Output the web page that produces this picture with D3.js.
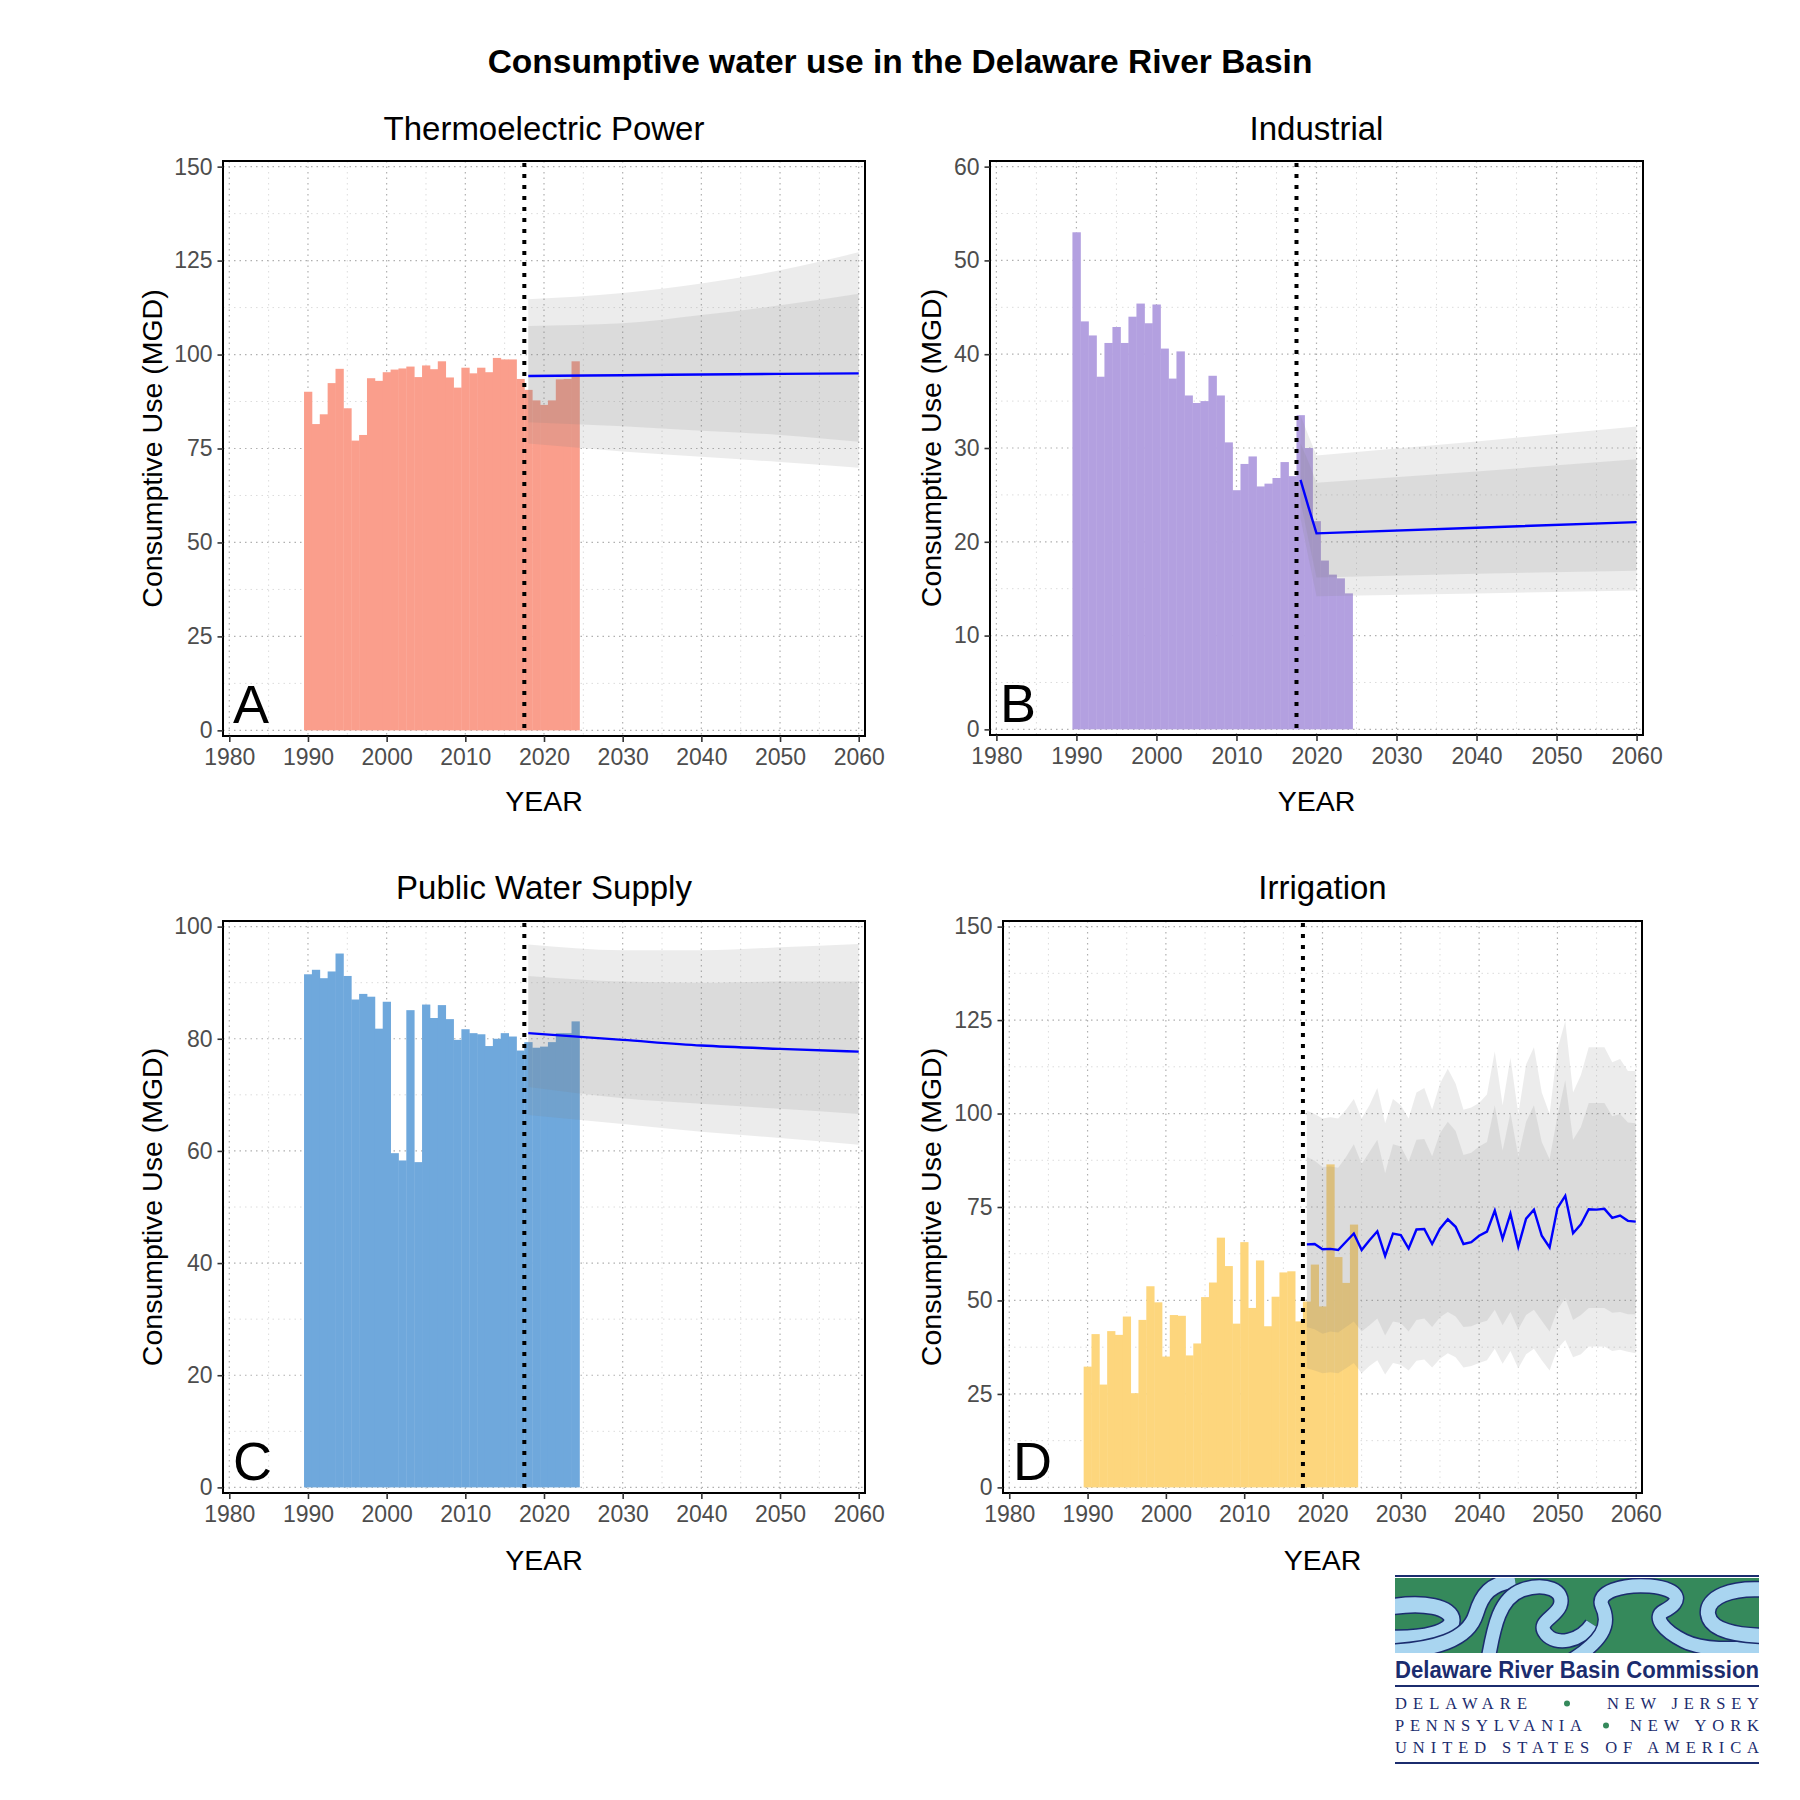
<!DOCTYPE html>
<html><head><meta charset="utf-8">
<script src="https://cdn.jsdelivr.net/npm/d3@7"></script>
<style>body{margin:0;background:#fff} svg{display:block}</style>
</head><body>
<svg id="c" width="1800" height="1800"></svg>
<script>
// ---------------- DATA ----------------
const chartTitle = "Consumptive water use in the Delaware River Basin";
const panelTitles = ["Thermoelectric Power", "Industrial", "Public Water Supply", "Irrigation"];
const panelLetters = ["A", "B", "C", "D"];
const xAxisTitle = "YEAR";
const yAxisTitle = "Consumptive Use (MGD)";

const histYears = [1990,1991,1992,1993,1994,1995,1996,1997,1998,1999,2000,2001,2002,2003,2004,2005,2006,2007,2008,2009,2010,2011,2012,2013,2014,2015,2016,2017,2018,2019,2020,2021,2022,2023,2024];
const thermoUse     = [90.1,81.5,84.1,92.4,96.2,85.7,77.1,78.6,93.7,93.0,95.3,96.0,96.3,96.8,94.0,97.1,96.1,98.2,93.9,91.2,96.5,95.0,96.5,95.3,99.1,98.7,98.7,93.5,90.6,87.8,86.6,87.8,93.4,93.5,98.2];
const industrialUse = [53.0,43.5,42.0,37.6,41.2,42.9,41.2,44.0,45.4,43.3,45.3,40.6,37.4,40.3,35.6,34.8,35.0,37.7,35.6,30.6,25.5,28.3,29.1,25.9,26.2,26.8,28.5,27.0,33.5,30.0,22.2,18.0,16.5,16.1,14.5];
const publicUse     = [91.5,92.3,90.8,92.0,95.2,91.2,87.0,88.0,87.5,81.8,86.6,59.6,58.3,85.1,58.0,86.1,83.7,86.0,83.5,79.8,81.7,81.0,80.8,78.7,80.0,81.0,80.4,77.9,79.4,78.4,78.6,79.4,81.0,81.0,83.1];
const irrigationUse = [32.3,41.0,27.5,41.8,40.8,45.7,25.2,44.8,53.8,49.5,35.0,46.1,45.9,35.3,38.5,50.9,54.8,66.8,59.2,43.8,65.6,48.0,60.7,43.1,51.0,57.5,57.8,44.4,49.7,59.6,48.4,86.4,61.6,54.7,70.3];

const xTickYears = [1980,1990,2000,2010,2020,2030,2040,2050,2060];
const thermoTicks = [0,25,50,75,100,125,150];
const industrialTicks = [0,10,20,30,40,50,60];
const publicTicks = [0,20,40,60,80,100];
const irrigationTicks = [0,25,50,75,100,125,150];
const forecastStartYear = 2017.5;

// projections (median line, inner band, outer band)
const thermoProjYears = [2018,2030,2040,2050,2060];
const thermoProjMid   = [94.3,94.5,94.7,94.85,95.0];
const thermoInnerLo   = [82.0,80.9,79.7,78.6,76.8];
const thermoInnerHi   = [107.6,108.3,110.5,113.1,116.2];
const thermoOuterLo   = [76.3,74.2,72.8,71.4,69.9];
const thermoOuterHi   = [114.7,116.4,118.9,122.4,127.2];

const industrialProjYears = [2018,2019,2020,2040,2060];
const industrialProjMid   = [26.6,23.7,20.9,21.5,22.1];
const industrialInnerLo   = [24.3,20.2,16.2,16.6,16.9];
const industrialInnerHi   = [30.5,28.5,26.3,27.5,28.8];
const industrialOuterLo   = [22.5,18.3,14.2,14.5,14.8];
const industrialOuterHi   = [33.5,31.3,29.2,30.7,32.3];

const publicProjYears = [2018,2030,2040,2050,2060];
const publicProjMid   = [81.0,79.8,78.8,78.2,77.7];
const publicInnerLo   = [71.4,69.4,68.4,67.5,66.6];
const publicInnerHi   = [91.2,90.2,90.0,90.2,90.2];
const publicOuterLo   = [66.4,64.8,63.4,62.3,61.1];
const publicOuterHi   = [96.8,95.8,95.8,96.3,96.9];

const irrigationProjYears = [2018,2019,2020,2021,2022,2023,2024,2025,2026,2027,2028,2029,2030,2031,2032,2033,2034,2035,2036,2037,2038,2039,2040,2041,2042,2043,2044,2045,2046,2047,2048,2049,2050,2051,2052,2053,2054,2055,2056,2057,2058,2059,2060];
const irrigationProjMid = [65.0,65.1,63.7,63.8,63.5,65.7,67.9,63.5,66.1,68.5,61.9,67.9,67.5,63.9,69.0,69.1,65.1,69.2,71.7,69.7,65.1,65.6,67.3,68.4,74.0,66.5,73.2,64.4,71.9,74.3,67.3,64.2,74.7,78.0,68.0,70.4,74.4,74.3,74.5,72.1,72.7,71.3,71.1];
const irrigationOuterHi = [100.8,99.9,98.7,99.0,98.7,101,103.9,98.7,102.2,106.8,97.4,103.9,102.2,98.7,105.6,106.8,101,108,112,108,101,101.6,102.8,105.1,116.6,102.2,114.9,99.9,113.1,117.7,105.6,99.9,117.2,124.7,105.6,110.3,117.7,117.7,117.7,113.7,114.6,111.4,111.4];
const irrigationInnerHi = [88.4,87.4,85.7,85.8,85.5,88.4,91.8,86.5,89.7,93.0,84.0,91.8,91.2,87.2,93.0,93.2,88.6,94.7,97.8,95.3,88.9,89.5,91.2,92.4,102.2,90.1,100.2,88.6,97.8,102.2,92.4,87.8,99.3,108.9,93.0,96.4,102.8,102.8,102.8,99.3,99.9,97.6,97.4];
const irrigationInnerLo = [42.9,42.3,41.1,41.7,41.4,42.9,44.4,41.7,43.4,45.2,40.6,44.4,44.0,41.7,44.8,45.2,42.9,45.5,46.9,45.7,42.9,43.1,44.0,44.6,47.5,43.4,46.9,42.3,46.1,47.5,44.6,41.7,47.5,50.6,44.8,46.1,48.0,48.0,48.0,46.7,46.9,46.3,46.3];
const irrigationOuterLo = [31.9,31.3,30.5,30.8,30.5,31.9,33.3,30.5,32.5,34.0,30.2,33.3,32.8,31.3,33.9,34.2,32.1,34.4,35.9,34.8,32.1,32.5,33.3,34.0,37.1,33.1,36.5,31.9,35.6,37.1,34.0,31.3,37.1,39.4,34.8,35.6,37.7,37.7,37.7,36.5,36.8,36.3,35.9];

// ---------------- DRAWING ----------------
const FONT = '"Liberation Sans", Arial, Helvetica, sans-serif';
const svg = d3.select('#c');
svg.append('rect').attr('width', 1800).attr('height', 1800).attr('fill', '#fff');

svg.append('text').attr('x', 900).attr('y', 73).attr('text-anchor', 'middle')
  .style('font-family', FONT).style('font-weight', 'bold').style('font-size', '33.5px')
  .attr('fill', '#000').text(chartTitle);

function proj(years, mid, ilo, ihi, olo, ohi) {
  return years.map((yr, i) => ({yr, mid: mid[i], ilo: ilo[i], ihi: ihi[i], olo: olo[i], ohi: ohi[i]}));
}

const panels = [
  {box: {x0: 223, x1: 865, y0: 161, y1: 736}, title: panelTitles[0], letter: panelLetters[0], color: '#FA9E8C',
   values: thermoUse, yMax: 150, yTicks: thermoTicks, curve: d3.curveMonotoneX,
   proj: proj(thermoProjYears, thermoProjMid, thermoInnerLo, thermoInnerHi, thermoOuterLo, thermoOuterHi),
   titleY: 140, xTitleY: 811, yTitleX: 162},
  {box: {x0: 990, x1: 1643, y0: 161, y1: 735}, title: panelTitles[1], letter: panelLetters[1], color: '#B3A0E0',
   values: industrialUse, yMax: 60, yTicks: industrialTicks, curve: d3.curveLinear,
   proj: proj(industrialProjYears, industrialProjMid, industrialInnerLo, industrialInnerHi, industrialOuterLo, industrialOuterHi),
   titleY: 140, xTitleY: 811, yTitleX: 941},
  {box: {x0: 223, x1: 865, y0: 921, y1: 1493}, title: panelTitles[2], letter: panelLetters[2], color: '#6FA8DC',
   values: publicUse, yMax: 100, yTicks: publicTicks, curve: d3.curveMonotoneX,
   proj: proj(publicProjYears, publicProjMid, publicInnerLo, publicInnerHi, publicOuterLo, publicOuterHi),
   titleY: 899, xTitleY: 1570, yTitleX: 162},
  {box: {x0: 1003, x1: 1642, y0: 921, y1: 1493}, title: panelTitles[3], letter: panelLetters[3], color: '#FDD67D',
   values: irrigationUse, yMax: 150, yTicks: irrigationTicks, curve: d3.curveLinear,
   proj: proj(irrigationProjYears, irrigationProjMid, irrigationInnerLo, irrigationInnerHi, irrigationOuterLo, irrigationOuterHi),
   titleY: 899, xTitleY: 1570, yTitleX: 941}
];

function drawPanel(p) {
  const {x0, x1, y0, y1} = p.box;
  const g = svg.append('g');
  const xr = xTickYears[xTickYears.length - 1] - xTickYears[0];
  const x = d3.scaleLinear().domain([xTickYears[0] - xr * 0.01, xTickYears[xTickYears.length - 1] + xr * 0.01]).range([x0, x1]);
  const y = d3.scaleLinear().domain([-p.yMax * 0.01, p.yMax * 1.01]).range([y1, y0]);

  const clipId = 'clip' + p.letter;
  g.append('clipPath').attr('id', clipId).append('rect')
    .attr('x', x0).attr('y', y0).attr('width', x1 - x0).attr('height', y1 - y0);
  const inner = g.append('g').attr('clip-path', `url(#${clipId})`);

  // grid
  const xMinor = xTickYears.slice(0, -1).map((t, i) => (t + xTickYears[i + 1]) / 2);
  const yMinor = p.yTicks.slice(0, -1).map((t, i) => (t + p.yTicks[i + 1]) / 2);
  const grid = inner.append('g');
  grid.selectAll('.xmin').data(xMinor).join('line')
    .attr('x1', d => x(d)).attr('x2', d => x(d)).attr('y1', y0).attr('y2', y1)
    .attr('stroke', '#dcdcdc').attr('stroke-width', 1).attr('stroke-dasharray', '1.5 4');
  grid.selectAll('.ymin').data(yMinor).join('line')
    .attr('y1', d => y(d)).attr('y2', d => y(d)).attr('x1', x0).attr('x2', x1)
    .attr('stroke', '#dcdcdc').attr('stroke-width', 1).attr('stroke-dasharray', '1.5 4');
  grid.selectAll('.xmaj').data(xTickYears).join('line')
    .attr('x1', d => x(d)).attr('x2', d => x(d)).attr('y1', y0).attr('y2', y1)
    .attr('stroke', '#b0b0b0').attr('stroke-width', 1.2).attr('stroke-dasharray', '1.5 4');
  grid.selectAll('.ymaj').data(p.yTicks).join('line')
    .attr('y1', d => y(d)).attr('y2', d => y(d)).attr('x1', x0).attr('x2', x1)
    .attr('stroke', '#b0b0b0').attr('stroke-width', 1.2).attr('stroke-dasharray', '1.5 4');

  // bars
  inner.append('g').selectAll('rect').data(histYears.map((yr, i) => ({yr, v: p.values[i]}))).join('rect')
    .attr('x', d => x(d.yr - 0.5)).attr('width', d => x(d.yr + 0.5) - x(d.yr - 0.5) + 0.4)
    .attr('y', d => y(d.v)).attr('height', d => y(0) - y(d.v))
    .attr('fill', p.color);

  // ribbons
  const outer = d3.area().x(d => x(d.yr)).y0(d => y(d.olo)).y1(d => y(d.ohi)).curve(p.curve);
  const innerA = d3.area().x(d => x(d.yr)).y0(d => y(d.ilo)).y1(d => y(d.ihi)).curve(p.curve);
  inner.append('path').datum(p.proj).attr('d', outer).attr('fill', '#7f7f7f').attr('fill-opacity', 0.15);
  inner.append('path').datum(p.proj).attr('d', innerA).attr('fill', '#7f7f7f').attr('fill-opacity', 0.15);

  // median line
  const ln = d3.line().x(d => x(d.yr)).y(d => y(d.mid)).curve(p.curve);
  inner.append('path').datum(p.proj).attr('d', ln).attr('fill', 'none')
    .attr('stroke', '#0000FF').attr('stroke-width', 2.4);

  // forecast start dotted line
  inner.append('line').attr('x1', x(forecastStartYear)).attr('x2', x(forecastStartYear))
    .attr('y1', y0 + 2).attr('y2', y1).attr('stroke', '#000').attr('stroke-width', 4)
    .attr('stroke-dasharray', '4 7');

  // panel letter
  g.append('text').attr('x', x0 + 10).attr('y', y1 - 13)
    .style('font-family', FONT).style('font-size', '54px').attr('fill', '#000').text(p.letter);

  // border
  g.append('rect').attr('x', x0).attr('y', y0).attr('width', x1 - x0).attr('height', y1 - y0)
    .attr('fill', 'none').attr('stroke', '#000').attr('stroke-width', 2);

  // axes
  const ax = g.append('g').attr('transform', `translate(0,${y1})`)
    .call(d3.axisBottom(x).tickValues(xTickYears).tickFormat(d3.format('d')).tickSize(6).tickPadding(6.5));
  const ay = g.append('g').attr('transform', `translate(${x0},0)`)
    .call(d3.axisLeft(y).tickValues(p.yTicks).tickFormat(d3.format('d')).tickSize(5.5).tickPadding(5));
  [ax, ay].forEach(a => {
    a.select('.domain').remove();
    a.selectAll('.tick line').attr('stroke', '#333').attr('stroke-width', 1.6);
    a.selectAll('.tick text').style('font-family', FONT).style('font-size', '23px').attr('fill', '#4D4D4D');
  });

  // titles
  const cx = (x0 + x1) / 2;
  g.append('text').attr('x', cx).attr('y', p.titleY).attr('text-anchor', 'middle')
    .style('font-family', FONT).style('font-size', '33px').attr('fill', '#000').text(p.title);
  g.append('text').attr('x', cx).attr('y', p.xTitleY).attr('text-anchor', 'middle')
    .style('font-family', FONT).style('font-size', '28.5px').attr('fill', '#000').text(xAxisTitle);
  g.append('text').attr('transform', `translate(${p.yTitleX},${(y0 + y1) / 2}) rotate(-90)`)
    .attr('text-anchor', 'middle')
    .style('font-family', FONT).style('font-size', '28.5px').attr('fill', '#000').text(yAxisTitle);
}
panels.forEach(drawPanel);

// ---------------- LOGO ----------------
(function logo() {
  const L = svg.append('g');
  const navy = '#1B2C6E', green = '#35895B', sky = '#A9D5F0';
  const lx0 = 1395, lx1 = 1759, ly0 = 1578, ly1 = 1653;
  L.append('line').attr('x1', lx0).attr('x2', lx1).attr('y1', 1576).attr('y2', 1576).attr('stroke', navy).attr('stroke-width', 2.2);
  L.append('clipPath').attr('id', 'logoClip').append('rect').attr('x', lx0).attr('y', ly0).attr('width', lx1 - lx0).attr('height', ly1 - ly0);
  const band = L.append('g').attr('clip-path', 'url(#logoClip)');
  band.append('rect').attr('x', lx0).attr('y', ly0).attr('width', lx1 - lx0).attr('height', ly1 - ly0).attr('fill', green);
  const rivers = [
    ['M1385,1608 C1425,1600 1452,1608 1452,1620 C1452,1632 1425,1640 1385,1638', 15],
    ['M1385,1652 C1435,1650 1468,1640 1476,1614 C1482,1594 1490,1584 1515,1580', 14],
    ['M1488,1660 C1494,1625 1500,1598 1522,1590 C1545,1582 1566,1590 1560,1606 C1555,1618 1536,1622 1546,1634 C1556,1646 1580,1642 1592,1624', 13],
    ['M1572,1660 C1600,1642 1612,1626 1602,1606 C1596,1592 1622,1584 1650,1586 C1680,1589 1684,1601 1664,1611 C1652,1617 1664,1631 1684,1641 C1702,1650 1730,1650 1770,1646', 13],
    ['M1770,1590 C1730,1586 1706,1598 1708,1614 C1710,1630 1735,1636 1770,1636', 14]
  ];
  rivers.forEach(([d, w]) => {
    band.append('path').attr('d', d).attr('fill', 'none').attr('stroke', navy).attr('stroke-width', w + 3);
    band.append('path').attr('d', d).attr('fill', 'none').attr('stroke', sky).attr('stroke-width', w);
  });
  L.append('text').attr('x', lx0).attr('y', 1678).attr('textLength', lx1 - lx0).attr('lengthAdjust', 'spacingAndGlyphs')
    .style('font-family', '"Liberation Sans Narrow", "Liberation Sans", sans-serif').style('font-weight', 'bold').style('font-size', '23px')
    .attr('fill', navy).text('Delaware River Basin Commission');
  L.append('line').attr('x1', lx0).attr('x2', lx1).attr('y1', 1686).attr('y2', 1686).attr('stroke', navy).attr('stroke-width', 2);
  const serif = '"Liberation Serif", "DejaVu Serif", serif';
  const rows = [
    {y: 1709, parts: [['DELAWARE', lx0, 1527], ['NEW JERSEY', 1607, lx1]], dot: 1567},
    {y: 1731, parts: [['PENNSYLVANIA', lx0, 1582], ['NEW YORK', 1630, lx1]], dot: 1606},
    {y: 1753, parts: [['UNITED STATES OF AMERICA', lx0, lx1]], dot: null}
  ];
  rows.forEach(r => {
    r.parts.forEach(([t, a, b]) => {
      L.append('text').attr('x', a).attr('y', r.y).attr('textLength', b - a).attr('lengthAdjust', 'spacing')
        .style('font-family', serif).style('font-size', '16.5px').attr('fill', navy).text(t);
    });
    if (r.dot) L.append('circle').attr('cx', r.dot).attr('cy', r.y - 5.5).attr('r', 3).attr('fill', green);
  });
  L.append('line').attr('x1', lx0).attr('x2', lx1).attr('y1', 1763).attr('y2', 1763).attr('stroke', navy).attr('stroke-width', 2);
})();
</script>
</body></html>
